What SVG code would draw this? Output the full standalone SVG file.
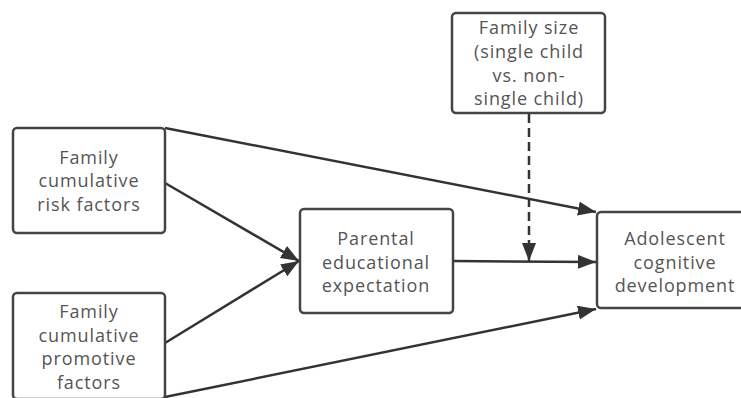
<svg xmlns="http://www.w3.org/2000/svg" width="741" height="398" viewBox="0 0 741 398">
<style>
.box{fill:#fff;stroke:#444;stroke-width:2.5}
.lbl{font-family:"Open Sans","Noto Sans",sans-serif;font-size:18px;letter-spacing:0.9px;fill:#555;text-anchor:middle}
.edge{fill:none;stroke:#333;stroke-width:2.5}
.dash{stroke-dasharray:9 5}
</style>
<defs>
<marker id="arr" markerUnits="userSpaceOnUse" markerWidth="19" markerHeight="15" refX="18" refY="7" orient="auto">
<path d="M0,0 L18,7 L0,14 z" fill="#333"/>
</marker>
</defs>
<rect width="741" height="398" fill="#fff"/>
<g id="connectors">
<line class="edge" x1="165" y1="128" x2="596" y2="212" marker-end="url(#arr)"/>
<line class="edge" x1="165" y1="183" x2="299" y2="261" marker-end="url(#arr)"/>
<line class="edge" x1="165" y1="343" x2="299" y2="261" marker-end="url(#arr)"/>
<line class="edge" x1="165" y1="397" x2="596" y2="309" marker-end="url(#arr)"/>
<line class="edge" x1="453" y1="261" x2="596" y2="262" marker-end="url(#arr)"/>
<line class="edge dash" x1="529" y1="114" x2="529" y2="261" marker-end="url(#arr)"/>
</g>
<g id="risk">
<rect class="box" x="13" y="128" width="152" height="105" rx="4"/>
<text class="lbl" x="89" y="164">Family</text>
<text class="lbl" x="89" y="187">cumulative</text>
<text class="lbl" x="89" y="211">risk factors</text>
</g>
<g id="promotive">
<rect class="box" x="13" y="293" width="152" height="106" rx="4"/>
<text class="lbl" x="89" y="318">Family</text>
<text class="lbl" x="89" y="342">cumulative</text>
<text class="lbl" x="89" y="365">promotive</text>
<text class="lbl" x="89" y="389">factors</text>
</g>
<g id="familysize">
<rect class="box" x="452" y="13" width="153" height="100" rx="4"/>
<text class="lbl" x="529" y="34">Family size</text>
<text class="lbl" x="529" y="58">(single child</text>
<text class="lbl" x="529" y="82">vs. non-</text>
<text class="lbl" x="529" y="105">single child)</text>
</g>
<g id="parental">
<rect class="box" x="300" y="209" width="153" height="104" rx="4"/>
<text class="lbl" x="376" y="245">Parental</text>
<text class="lbl" x="376" y="269">educational</text>
<text class="lbl" x="376" y="292">expectation</text>
</g>
<g id="adolescent">
<rect class="box" x="597" y="212" width="160" height="96" rx="4"/>
<text class="lbl" x="675" y="245">Adolescent</text>
<text class="lbl" x="675" y="269">cognitive</text>
<text class="lbl" x="675" y="292">development</text>
</g>
</svg>
